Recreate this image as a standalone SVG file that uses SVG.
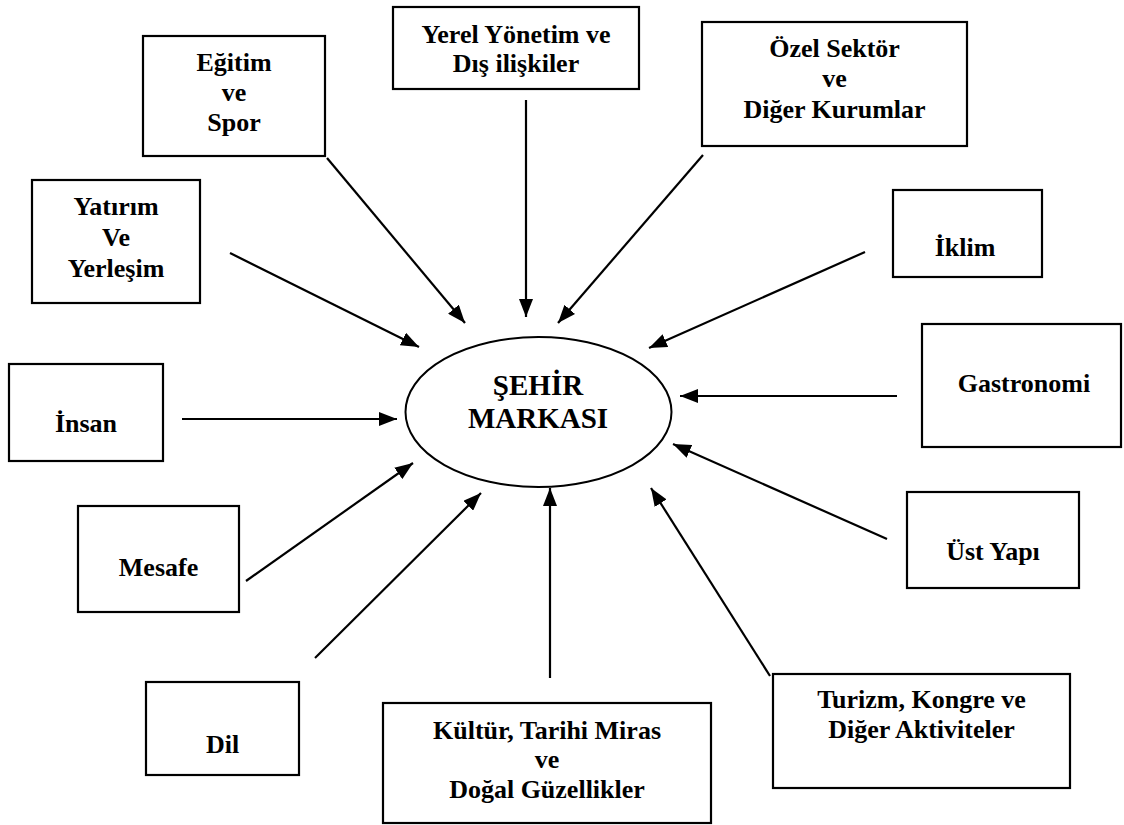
<svg xmlns="http://www.w3.org/2000/svg" width="1124" height="825" viewBox="0 0 1124 825">
<defs>
<style>
.box{fill:#fff;stroke:#000;stroke-width:2.2}
.t{font-family:"Liberation Serif","Times New Roman",serif;font-weight:bold;font-size:26px;fill:#000;text-anchor:middle}
.c{font-size:29px}
.ln{stroke:#000;stroke-width:2.2;fill:none;marker-end:url(#ah)}
</style>
<marker id="ah" markerUnits="userSpaceOnUse" markerWidth="18" markerHeight="14" refX="18" refY="7" orient="auto">
<path d="M0,0 L18,7 L0,14 z" fill="#000"/>
</marker>
</defs>
<rect width="1124" height="825" fill="#fff"/>
<g id="connectors">
<line class="ln" x1="327" y1="158" x2="465" y2="323"/>
<line class="ln" x1="526" y1="100" x2="526" y2="317"/>
<line class="ln" x1="703" y1="155" x2="558" y2="323"/>
<line class="ln" x1="230" y1="253" x2="419" y2="347"/>
<line class="ln" x1="865" y1="252" x2="649" y2="348"/>
<line class="ln" x1="897" y1="396" x2="680" y2="396"/>
<line class="ln" x1="182" y1="419" x2="397" y2="419"/>
<line class="ln" x1="246" y1="581" x2="413" y2="463"/>
<line class="ln" x1="315" y1="658" x2="481" y2="493"/>
<line class="ln" x1="550" y1="678" x2="550" y2="488"/>
<line class="ln" x1="770" y1="676" x2="651" y2="488"/>
<line class="ln" x1="887" y1="539" x2="673" y2="444"/>
</g>
<g id="center">
<ellipse cx="538.5" cy="412" rx="133" ry="75" fill="#fff" stroke="#000" stroke-width="2"/>
<text class="t c" x="538" y="395">ŞEHİR</text>
<text class="t c" x="538" y="428">MARKASI</text>
</g>
<g id="egitim">
<rect class="box" x="143" y="36" width="182" height="120"/>
<text class="t" x="234" y="71">Eğitim</text>
<text class="t" x="234" y="101">ve</text>
<text class="t" x="234" y="131">Spor</text>
</g>
<g id="yerel">
<rect class="box" x="393" y="7" width="246" height="82"/>
<text class="t" x="516" y="43">Yerel Yönetim ve</text>
<text class="t" x="516" y="72">Dış ilişkiler</text>
</g>
<g id="ozel">
<rect class="box" x="702" y="22" width="265" height="124"/>
<text class="t" x="834.5" y="57">Özel Sektör</text>
<text class="t" x="834.5" y="87">ve</text>
<text class="t" x="834.5" y="118">Diğer Kurumlar</text>
</g>
<g id="yatirim">
<rect class="box" x="32" y="180" width="168" height="123"/>
<text class="t" x="116" y="215">Yatırım</text>
<text class="t" x="116" y="246">Ve</text>
<text class="t" x="116" y="277">Yerleşim</text>
</g>
<g id="iklim">
<rect class="box" x="893" y="190" width="149" height="87"/>
<text class="t" x="965" y="256">İklim</text>
</g>
<g id="gastronomi">
<rect class="box" x="922" y="324" width="199" height="123"/>
<text class="t" x="1024" y="392">Gastronomi</text>
</g>
<g id="insan">
<rect class="box" x="9" y="364" width="154" height="97"/>
<text class="t" x="86" y="432">İnsan</text>
</g>
<g id="mesafe">
<rect class="box" x="78" y="506" width="161" height="106"/>
<text class="t" x="158.5" y="576">Mesafe</text>
</g>
<g id="dil">
<rect class="box" x="146" y="682" width="153" height="93"/>
<text class="t" x="222.5" y="753">Dil</text>
</g>
<g id="kultur">
<rect class="box" x="383" y="703" width="328" height="120"/>
<text class="t" x="547" y="739">Kültür, Tarihi Miras</text>
<text class="t" x="547" y="768">ve</text>
<text class="t" x="547" y="798">Doğal Güzellikler</text>
</g>
<g id="ustyapi">
<rect class="box" x="907" y="492" width="172" height="96"/>
<text class="t" x="993" y="560">Üst Yapı</text>
</g>
<g id="turizm">
<rect class="box" x="773" y="674" width="297" height="114"/>
<text class="t" x="921.5" y="708">Turizm, Kongre ve</text>
<text class="t" x="921.5" y="738">Diğer Aktiviteler</text>
</g>
</svg>
